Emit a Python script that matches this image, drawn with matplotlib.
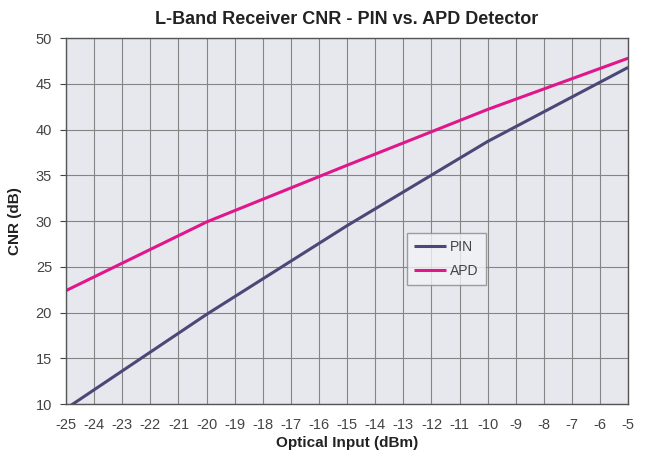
import matplotlib
matplotlib.use("Agg")
import matplotlib.pyplot as plt

plt.rcParams['font.family'] = ['Liberation Sans', 'DejaVu Sans']
plt.rcParams['axes.unicode_minus'] = False

x_dbm = [-25, -20, -15, -10, -5]
pin_cnr = [9.5, 19.8, 29.5, 38.7, 46.8]
apd_cnr = [22.4, 29.9, 36.1, 42.2, 47.8]

fig = plt.figure(figsize=(6.47, 4.53), dpi=100)
ax = fig.add_axes([0.102, 0.108, 0.869, 0.808])
ax.set_facecolor('#e6e8ee')

ax.plot(x_dbm, pin_cnr, color='#4b4878', lw=2.2, label='PIN', solid_capstyle='butt')
ax.plot(x_dbm, apd_cnr, color='#e0168a', lw=2.2, label='APD', solid_capstyle='butt')

ax.set_xlim(-25, -5)
ax.set_ylim(10, 50)
ax.set_xticks(range(-25, -4))
ax.set_yticks(range(10, 51, 5))
ax.grid(True, color='#858585', lw=0.8)
ax.set_axisbelow(True)
for s in ax.spines.values():
    s.set_color('#555555')
    s.set_linewidth(1.0)
ax.tick_params(colors='#444444', labelsize=10.5, length=4, width=0.8, pad=6)
ax.tick_params(axis='x', length=0, pad=10)

ax.set_xlabel('Optical Input (dBm)', fontsize=11, fontweight='bold', color='#222222', labelpad=3)
ax.set_ylabel('CNR (dB)', fontsize=11, fontweight='bold', color='#222222', labelpad=10)
ax.set_title('L-Band Receiver CNR - PIN vs. APD Detector', fontsize=13, fontweight='bold',
             color='#222222', pad=10)

leg = ax.legend(loc='upper left', bbox_to_anchor=(0.607, 0.467), borderaxespad=0, fontsize=10,
                frameon=True, fancybox=False, handlelength=2.3, borderpad=0.5,
                labelspacing=0.7, handletextpad=0.3)
leg.get_frame().set_edgecolor('#888888')
leg.get_frame().set_facecolor('#f2f3f6')
leg.get_frame().set_linewidth(1.0)
for t in leg.get_texts():
    t.set_color('#444444')

fig.savefig('out.png', dpi=100)
